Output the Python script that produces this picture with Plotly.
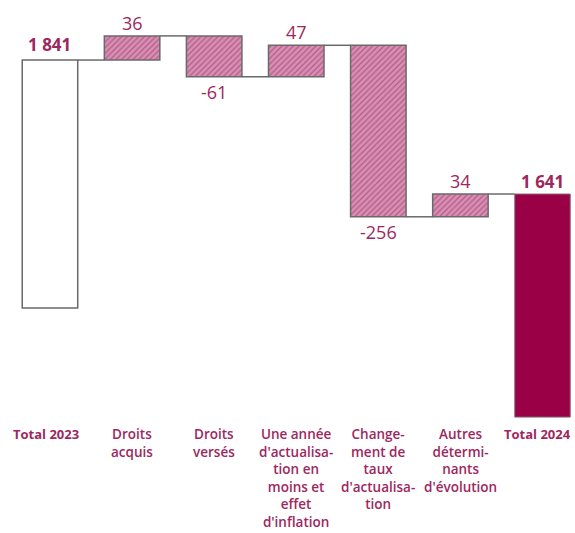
import plotly.graph_objects as go

# ---- data ----
categories = ["Total 2023", "Droits acquis", "Droits versés",
              "Une année d'actualisation en moins et effet d'inflation",
              "Changement de taux d'actualisation",
              "Autres déterminants d'évolution", "Total 2024"]
category_labels = ["<b>Total 2023</b>", "Droits<br>acquis", "Droits<br>versés",
                   "Une année<br>d'actualisa-<br>tion en<br>moins et<br>effet<br>d'inflation",
                   "Change-<br>ment de<br>taux<br>d'actualisa-<br>tion",
                   "Autres<br>détermi-<br>nants<br>d'évolution", "<b>Total 2024</b>"]
total_2023 = 1841
deltas = [36, -61, 47, -256, 34]
total_2024 = 1641
value_labels = ["1 841", "36", "-61", "47", "-256", "34", "1 641"]
# truncated display floor of the total bars (axis is broken in the original)
floor_2023 = 1471
floor_2024 = 1308

# ---- styles ----
DARK = "#990045"
TEXT = "#9E2760"
PINK = "#DC8DB4"
HATCH = "#7A3058"
OUTLINE = "#6a6a6a"
FONT = "Open Sans"
W = 0.676

# ---- compute waterfall ----
cum = [total_2023]
for d in deltas:
    cum.append(cum[-1] + d)
n = len(categories)
xs = list(range(n))

fig = go.Figure()

# total 2023
fig.add_trace(go.Bar(x=[0], y=[total_2023 - floor_2023], base=[floor_2023], width=W,
                     marker=dict(color="white", line=dict(color=OUTLINE, width=1.5)),
                     hoverinfo="skip"))
# deltas
d_x = xs[1:-1]
d_base = [cum[i] if deltas[i] >= 0 else cum[i] + deltas[i] for i in range(len(deltas))]
d_y = [abs(v) for v in deltas]
fig.add_trace(go.Bar(x=d_x, y=d_y, base=d_base, width=W,
                     marker=dict(color=PINK,
                                 pattern=dict(shape="/", fgcolor=HATCH, bgcolor=PINK,
                                              size=4, solidity=0.3),
                                 line=dict(color=OUTLINE, width=1.5)),
                     hoverinfo="skip"))
# total 2024
fig.add_trace(go.Bar(x=[n - 1], y=[total_2024 - floor_2024], base=[floor_2024], width=W,
                     marker=dict(color=DARK, line=dict(color="#8a6a78", width=1)),
                     hoverinfo="skip"))

# connectors
cx, cy = [], []
for i in range(n - 1):
    level = cum[i]
    cx += [i + W / 2, i + 1 - W / 2, None]
    cy += [level, level, None]
fig.add_trace(go.Scatter(x=cx, y=cy, mode="lines",
                         line=dict(color=OUTLINE, width=1.5), hoverinfo="skip"))

# value labels
tops = [total_2023] + [cum[i] + max(deltas[i], 0) for i in range(len(deltas))] + [total_2024]
bottoms = [floor_2023] + [cum[i] + min(deltas[i], 0) for i in range(len(deltas))] + [floor_2024]
vals = [total_2023] + deltas + [total_2024]
for i in range(n):
    is_total = i in (0, n - 1)
    if vals[i] >= 0:
        y = tops[i]
        shift = 16 if i == 0 else 13
    else:
        y = bottoms[i]
        shift = -15
    txt = f"<b>{value_labels[i]}</b>" if is_total else value_labels[i]
    fig.add_annotation(x=i, y=y, text=txt, showarrow=False, yanchor="middle",
                       yshift=shift,
                       font=dict(family=FONT, size=17 if is_total else 18, color=TEXT))

# category labels
for i in range(n):
    is_total = i in (0, n - 1)
    xshift = -4 if i == 0 else (-5 if i == n - 1 else 0)
    fig.add_annotation(x=i, y=1 - 423 / 533, yref="paper", text=category_labels[i],
                       showarrow=False, yanchor="top", xanchor="center", align="center",
                       xshift=xshift,
                       font=dict(family=FONT, size=13 if is_total else 13.5,
                                 color=TEXT, weight=600))

fig.update_layout(
    width=575, height=533,
    margin=dict(l=0, r=0, t=0, b=0),
    paper_bgcolor="white", plot_bgcolor="white",
    showlegend=False, barmode="overlay",
    xaxis=dict(range=[-0.609, 6.396], visible=False, fixedrange=True),
    yaxis=dict(range=[1135, 1930.6], visible=False, fixedrange=True),
)
fig.write_html("out.html")
